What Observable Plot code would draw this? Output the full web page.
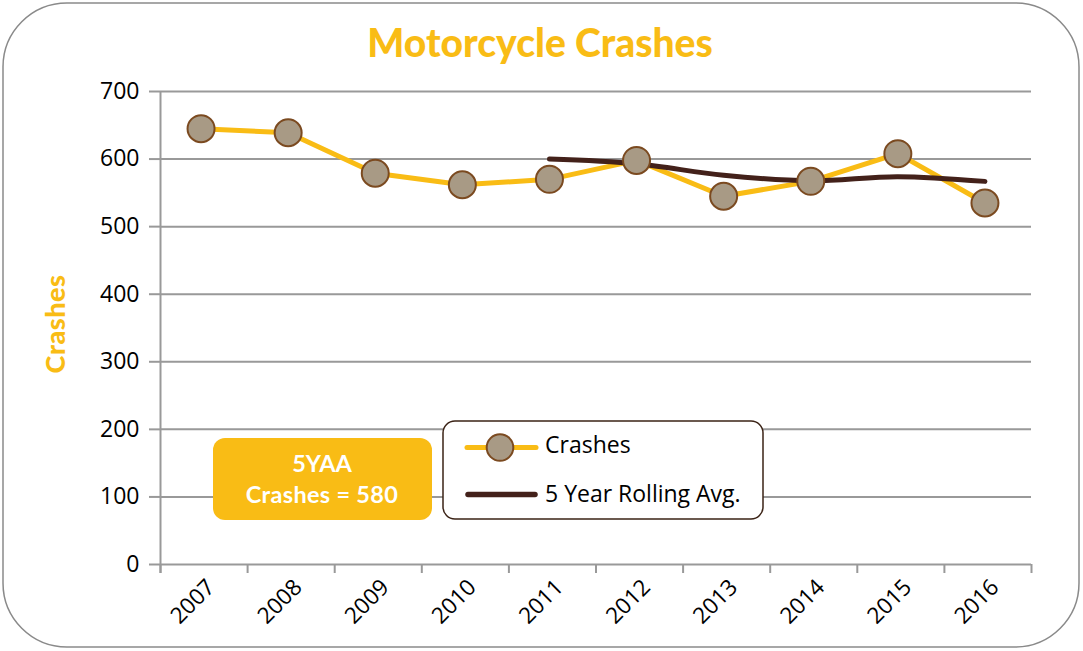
<!DOCTYPE html>
<html><head><meta charset="utf-8">
<script src="https://cdn.jsdelivr.net/npm/d3@7"></script>
<script src="https://cdn.jsdelivr.net/npm/@observablehq/plot@0.6"></script>
<style>
body{margin:0;background:#fff;}
#wrap{position:relative;width:1083px;height:651px;overflow:hidden;}
#wrap > svg{position:absolute;left:0;top:0;}
</style>
</head><body>
<div id="wrap">
<svg id="frame" width="1083" height="651" style="position:absolute;left:0;top:0">
  <rect x="3" y="3" width="1076" height="644" rx="64" ry="64" fill="#fff" stroke="#8a8a8a" stroke-width="1.5"/>
</svg>
<div id="chart" style="position:absolute;left:0;top:0"></div>
<svg id="overlay" width="1083" height="651" style="position:absolute;left:0;top:0">
  <text x="540" y="57" text-anchor="middle" font-family="Lato" font-weight="900" font-size="39" fill="#F9BC15">Motorcycle Crashes</text>
  <text transform="translate(65,324) rotate(-90)" text-anchor="middle" font-family="Lato" font-weight="900" font-size="27" letter-spacing="0.5" fill="#F9BC15">Crashes</text>
  <rect x="213" y="438" width="219" height="82" rx="12" ry="12" fill="#F9BC15"/>
  <text x="322" y="471.5" text-anchor="middle" font-family="Lato" font-weight="700" font-size="23.5" fill="#fff">5YAA</text>
  <text x="322" y="502.5" text-anchor="middle" font-family="Lato" font-weight="700" font-size="23.5" letter-spacing="0.3" fill="#fff">Crashes = 580</text>
  <rect x="443" y="421" width="320" height="98" rx="12" ry="12" fill="#fff" stroke="#3b2316" stroke-width="1.5"/>
  <line x1="467" y1="447.5" x2="536" y2="447.5" stroke="#F9BC15" stroke-width="5" stroke-linecap="round"/>
  <circle cx="500" cy="447.5" r="13.3" fill="#A89A85" stroke="#7B4A20" stroke-width="2"/>
  <text x="545" y="453" font-family="Open Sans" font-size="23" fill="#000">Crashes</text>
  <line x1="468" y1="494.5" x2="535" y2="494.5" stroke="#43211A" stroke-width="5.5" stroke-linecap="round"/>
  <text x="545" y="502" font-family="Open Sans" font-size="23" fill="#000">5 Year Rolling Avg.</text>
</svg>
</div>
<script>
const years = [2007, 2008, 2009, 2010, 2011, 2012, 2013, 2014, 2015, 2016];
const crashes = [645, 639, 579, 562, 570, 598, 545, 567, 608, 535];
const rollYears = [2011, 2012, 2013, 2014, 2015, 2016];
const rollAvg = [600, 593, 576, 568, 574, 567];
const yTicks = [0, 100, 200, 300, 400, 500, 600, 700];

const crashData = years.map((year, i) => ({year, value: crashes[i]}));
const rollData = rollYears.map((year, i) => ({year, value: rollAvg[i]}));
const bounds = [...years.map(y => y - 0.5), years[years.length - 1] + 0.5];

const chart = Plot.plot({
  width: 1083, height: 651,
  marginLeft: 160, marginRight: 52, marginTop: 91, marginBottom: 87,
  style: {fontFamily: '"Open Sans", sans-serif', background: "transparent", color: "#000", overflow: "visible"},
  x: {type: "linear", domain: [2006.5, 2016.5]},
  y: {domain: [0, 700]},
  marks: [
    Plot.ruleY(yTicks, {stroke: "#999", strokeWidth: 2}),
    Plot.ruleX([bounds[0]], {y1: 700, y2: 0, insetBottom: -9, stroke: "#999", strokeWidth: 2}),
    Plot.ruleX(bounds, {y1: 0, y2: 0, insetBottom: -9, stroke: "#999", strokeWidth: 2}),
    Plot.axisY({ticks: yTicks, tickSize: 11, tickPadding: 10, fontSize: 23, label: null, stroke: "#999", strokeWidth: 2, strokeOpacity: 1}),
    Plot.axisX({ticks: years, tickSize: 0, tickRotate: -45, tickFormat: d => String(d), fontSize: 22.5, label: null, tickPadding: 14, dx: 7, dy: 5}),
    Plot.line(crashData, {x: "year", y: "value", stroke: "#F9BC15", strokeWidth: 5, dx: -3}),
    Plot.line(rollData, {x: "year", y: "value", stroke: "#43211A", strokeWidth: 5, curve: "catmull-rom", strokeLinecap: "round", dx: -3}),
    Plot.dot(crashData, {x: "year", y: "value", r: 13.5, fill: "#A89A85", stroke: "#7B4A20", strokeWidth: 2, dx: -3})
  ]
});
document.getElementById("chart").appendChild(chart);
</script>
</body></html>
